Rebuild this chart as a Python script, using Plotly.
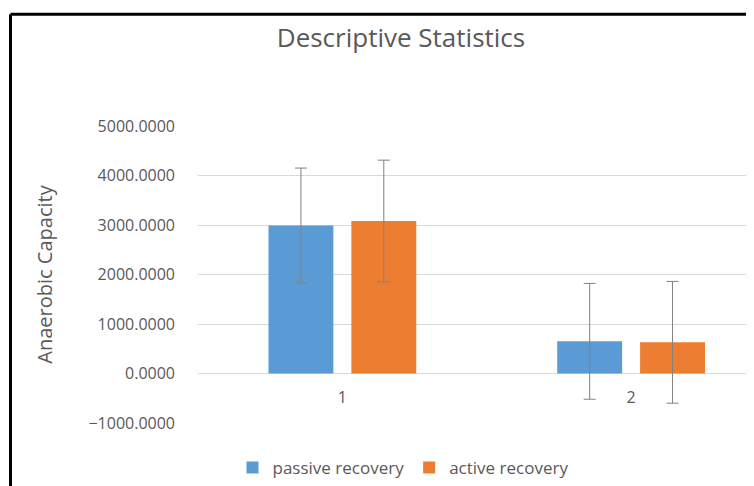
import plotly.graph_objects as go

categories = ["1", "2"]
passive_mean = [2990, 650]
passive_err = [1160, 1170]
active_mean = [3080, 630]
active_err = [1230, 1230]
y_ticks = [-1000, 0, 1000, 2000, 3000, 4000, 5000]

# the page body adds an 8px margin, so the figure is sized / placed in its own pixels
W, H = 746, 478
L, R, T, B = 190, 0, 118, 60
pw, ph = W - L - R, H - T - B

def px_x(x):
    return (x - L) / pw

def px_y(y):
    return (H - B - y) / ph

fig = go.Figure()
fig.add_trace(go.Bar(
    name="passive recovery", x=categories, y=passive_mean,
    marker=dict(color="#5B9BD5", line=dict(width=0)),
    error_y=dict(type="data", array=passive_err, visible=True,
                 color="#808080", thickness=1, width=6),
))
fig.add_trace(go.Bar(
    name="active recovery", x=categories, y=active_mean,
    marker=dict(color="#ED7D31", line=dict(width=0)),
    error_y=dict(type="data", array=active_err, visible=True,
                 color="#808080", thickness=1, width=6),
))

font_family = "Open Sans, Lato, sans-serif"
grey = "#595959"

fig.update_layout(
    width=W, height=H,
    margin=dict(l=L, r=R, t=T, b=B, pad=0),
    paper_bgcolor="white", plot_bgcolor="white",
    barmode="group", bargap=0.426, bargroupgap=0.217,
    font=dict(family=font_family, color=grey),
    title=dict(text="Descriptive Statistics", x=393 / W, xanchor="center",
               y=1 - 30 / H, yanchor="middle",
               font=dict(size=26, color=grey, family=font_family)),
    showlegend=True,
    legend=dict(orientation="h", x=px_x(395), xanchor="center",
                y=px_y(464), yanchor="middle",
                font=dict(size=17, color=grey), itemwidth=30,
                tracegroupgap=0),
    xaxis=dict(type="category", range=[-0.5, 1.5 - 21.5 / 289],
               anchor="free", position=1 / 6,
               showgrid=False, showline=False, zeroline=False,
               ticks="", ticklabelstandoff=12,
               tickfont=dict(size=16, color=grey)),
    yaxis=dict(range=[-1000, 5000], tickvals=y_ticks, tickformat=".4f",
               showgrid=True, gridcolor="#d9d9d9", gridwidth=1,
               zeroline=True, zerolinecolor="#d9d9d9", zerolinewidth=1,
               showline=False, ticks="", ticklabelstandoff=22,
               tickfont=dict(size=16, color=grey),
               title=dict(text="Anaerobic Capacity", standoff=30,
                          font=dict(size=20, color=grey))),
    shapes=[
        dict(type="line", xref="paper", yref="paper",
             x0=px_x(2.5), x1=px_x(800), y0=px_y(5), y1=px_y(5),
             line=dict(color="black", width=3)),
        dict(type="line", xref="paper", yref="paper",
             x0=px_x(2.5), x1=px_x(2.5), y0=px_y(5), y1=px_y(500),
             line=dict(color="black", width=3)),
    ],
)

fig.write_html("out.html")
